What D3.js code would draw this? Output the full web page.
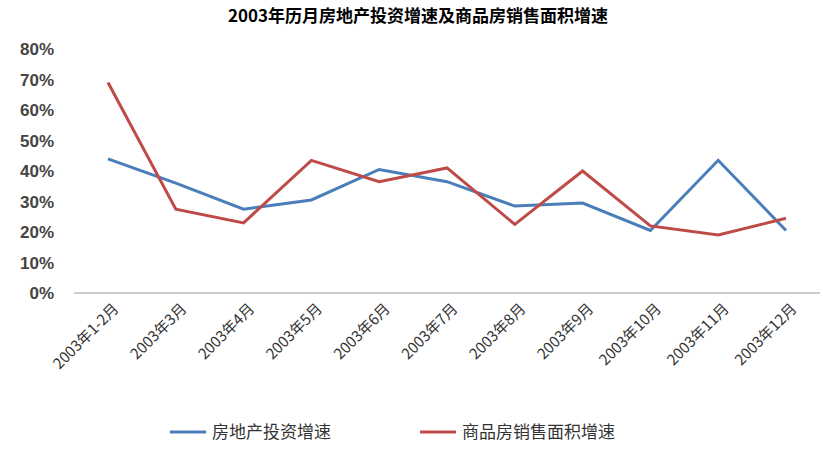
<!DOCTYPE html>
<html><head><meta charset="utf-8">
<script src="https://cdn.jsdelivr.net/npm/d3@7"></script>
<style>body{margin:0;background:#fff;font-family:"Noto Sans CJK SC",sans-serif;}</style>
</head><body><svg></svg>
<script>
const months = ['2003年1-2月','2003年3月','2003年4月','2003年5月','2003年6月','2003年7月','2003年8月','2003年9月','2003年10月','2003年11月','2003年12月'];
const investGrowth = [44, 36, 27.5, 30.5, 40.5, 36.5, 28.5, 29.5, 20.5, 43.5, 20.5];
const salesGrowth = [69, 27.5, 23, 43.5, 36.5, 41, 22.5, 40, 22, 19, 24.5];
const yTicks = [0, 10, 20, 30, 40, 50, 60, 70, 80];
const seriesNames = ['房地产投资增速', '商品房销售面积增速'];
const colors = ['#4a7ebb', '#be4b48'];

const size = {w: 823, h: 451};
const svg = d3.select('svg').attr('width', size.w).attr('height', size.h);

const x = d3.scalePoint().domain(months).range([108, 786]);
const y = d3.scaleLinear().domain([0, 80]).range([293, 49]);

svg.append('text').attr('x', 418).attr('y', 22).attr('text-anchor', 'middle')
    .style('font-size', '17px').style('font-weight', 'bold').text('2003年历月房地产投资增速及商品房销售面积增速');

// y axis labels
svg.selectAll('.ytick').data(yTicks).join('text')
    .attr('x', 54).attr('y', d => y(d) + 6).attr('text-anchor', 'end')
    .style('font-size', '17px').style('font-family', 'Liberation Sans, sans-serif')
    .style('font-weight', 'bold').style('fill', '#444').text(d => d + '%');

// x axis baseline
svg.append('line').attr('x1', 74).attr('x2', 820).attr('y1', y(0)).attr('y2', y(0))
    .attr('stroke', '#999');

svg.selectAll('.xtick').data(months).join('text')
    .attr('transform', d => `translate(${x(d) + 8},${306}) rotate(-45)`)
    .attr('text-anchor', 'end').attr('dy', '0.35em')
    .style('font-size', '15px').style('fill', '#333').text(d => d);

const line = d3.line().x((d, i) => x(months[i])).y(d => y(d));
[investGrowth, salesGrowth].forEach((s, k) => {
    svg.append('path').attr('d', line(s)).attr('fill', 'none')
        .attr('stroke', colors[k]).attr('stroke-width', 3);
});

// legend
const legendX = [170, 420];
seriesNames.forEach((n, k) => {
    svg.append('line').attr('x1', legendX[k]).attr('x2', legendX[k] + 36)
        .attr('y1', 432).attr('y2', 432).attr('stroke', colors[k]).attr('stroke-width', 3);
    svg.append('text').attr('x', legendX[k] + 42).attr('y', 438)
        .style('font-size', '17px').style('fill', '#333').text(n);
});
</script></body></html>
